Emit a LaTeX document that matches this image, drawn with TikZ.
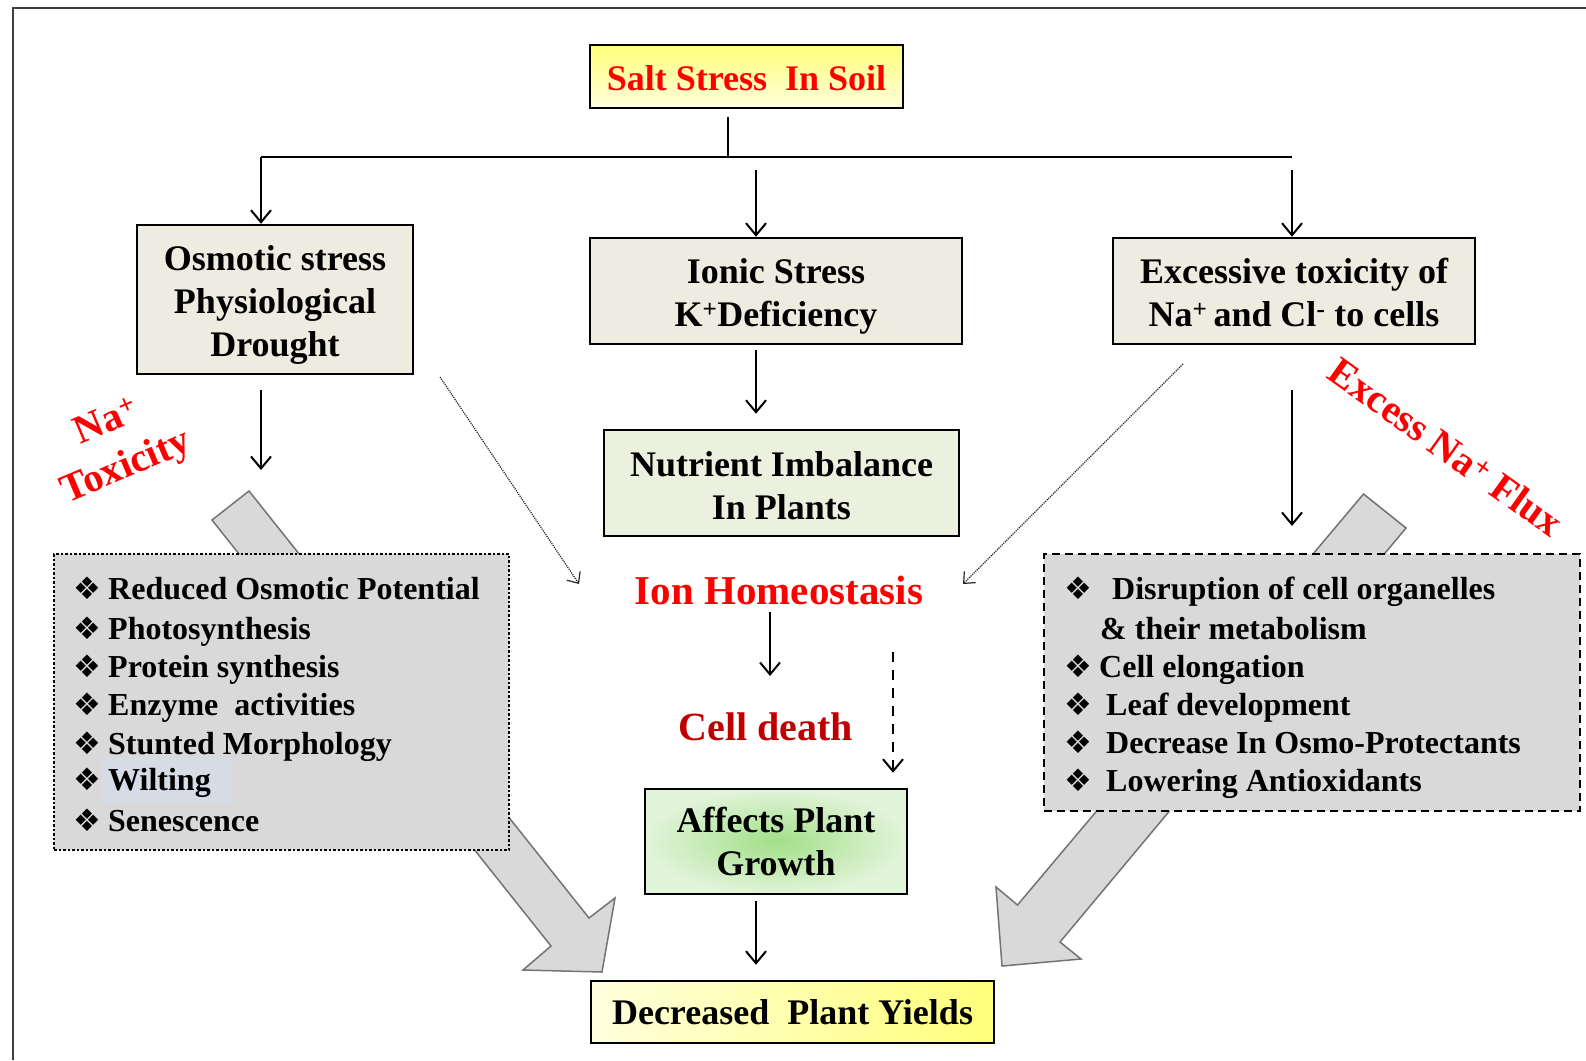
\documentclass[tikz,border=0pt]{standalone}
\usepackage{fontspec}
\setmainfont{Liberation Serif}
\newfontfamily\symfont{DejaVu Sans}
\usetikzlibrary{arrows.meta}

\definecolor{beige}{HTML}{EEECE1}
\definecolor{nutrgreen}{HTML}{EBF1DE}
\definecolor{listgray}{HTML}{D9D9D9}
\definecolor{darkred}{HTML}{C00000}
\definecolor{yellowtop}{HTML}{FFFF7A}
\definecolor{yellowbot}{HTML}{FFFFDD}
\definecolor{growin}{HTML}{A2DF88}
\definecolor{growout}{HTML}{E2F4DA}
\definecolor{hilite}{HTML}{D5DCE6}

\newcommand{\dia}{{\symfont ❖}}
\newcommand{\lift}[1]{\rule{0pt}{#1}}

\begin{document}
\begin{tikzpicture}[x=1pt,y=-1pt,
    box/.style = {draw, line width=2.5pt, align=center, inner sep=0pt,
                  font=\fontsize{36}{43}\selectfont\bfseries},
    arrow/.style = {line width=2pt, -{Straight Barb[length=12pt,width=20pt]}},
    dotarrow/.style = {line width=1.2pt, densely dotted, black!85,
                  -{Straight Barb[length=9pt,width=16pt]}},
    dasharrow/.style = {line width=2pt, dash pattern=on 10pt off 8pt,
                  -{Straight Barb[length=12pt,width=20pt]}},
    listbox/.style = {fill=listgray, line width=2.5pt, inner sep=0pt},
    item/.style = {anchor=base west, inner sep=0pt,
                  font=\fontsize{32}{38}\selectfont\bfseries},
    bul/.style = {anchor=base, inner sep=0pt, font=\fontsize{31}{34}\selectfont},
    blockarrow/.style = {fill=listgray, draw=black!55, line width=1.5pt},
    redtext/.style = {text=red, inner sep=0pt,
                  font=\fontsize{41}{48}\selectfont\bfseries}]
    \useasboundingbox (0,0) rectangle (1586,1060);
    \draw[line width=1.5pt, black!75] (13,1060) -- (13,8) -- (1586,8);

    % big grey arrows behind the lists
    \draw[blockarrow] (212,520) -- (249,491) -- (589,918) -- (615,898)
        -- (602,972) -- (523,970) -- (551,946) -- cycle;
    \draw[blockarrow] (1363.5,494) -- (1406,528) -- (1060,942) -- (1081,959)
        -- (1002,966) -- (996,887) -- (1017.5,905) -- cycle;

    % boxes
    \node[box, text=red, top color=yellowtop, bottom color=yellowbot,
          minimum width=313pt, minimum height=63pt] (salt) at (746.5,76.5)
          {\lift{28pt}Salt Stress\ \ In Soil};
    \node[box, fill=beige, minimum width=276pt, minimum height=149pt]
          (osm) at (275,299.5) {\lift{35pt}Osmotic stress\\Physiological\\Drought};
    \node[box, fill=beige, minimum width=372pt, minimum height=106pt]
          (ionic) at (776,291) {\lift{36pt}Ionic Stress\\K\textsuperscript{+}Deficiency};
    \node[box, fill=beige, minimum width=362pt, minimum height=106pt]
          (excess) at (1294,291)
          {\lift{28pt}Excessive toxicity of\\Na\textsuperscript{+}\,and Cl\textsuperscript{-} to cells};
    \node[box, fill=nutrgreen, minimum width=355pt, minimum height=106pt]
          (nutr) at (781.5,483) {\lift{30pt}Nutrient Imbalance\\In Plants};
    \node[redtext] (ion) at (779,590) {Ion Homeostasis};
    \node[redtext, text=darkred, font=\fontsize{40}{48}\selectfont\bfseries]
          (death) at (766,727) {Cell death};
    \node[box, inner color=growin, outer color=growout,
          minimum width=262pt, minimum height=105pt] (growth) at (776,841.5)
          {\lift{26pt}Affects Plant\\Growth};
    \node[box, left color=yellowbot, right color=yellowtop,
          minimum width=403pt, minimum height=62pt] (yield) at (792.5,1012)
          {Decreased\ \ Plant Yields};

    % side labels
    \node[redtext, rotate=23, align=center, font=\fontsize{40}{49}\selectfont\bfseries]
          (natox) at (117,446) {Na\textsuperscript{+}\\Toxicity};
    \node[redtext, rotate=-35.5, font=\fontsize{40}{46}\selectfont\bfseries]
          (flux) at (1446,447) {Excess Na\textsuperscript{+} Flux};

    % left list
    \node[listbox, draw, dotted, minimum width=455pt, minimum height=296pt]
          (effl) at (281.5,702) {};
    \fill[hilite] (102,758) rectangle (233,803);
    \foreach \y/\t [count=\i] in {599/Reduced Osmotic Potential, 639/Photosynthesis,
            677/Protein synthesis, 715/Enzyme\ \ activities, 754/Stunted Morphology,
            790/Wilting, 831/Senescence} {
        \node[bul] (lb\i) at (87,\y) {\dia};
        \node[item] (l\i) at (108,\y) {\t};
    }

    % right list
    \node[listbox, draw, dash pattern=on 8pt off 5pt, minimum width=536pt,
          minimum height=257pt] (effr) at (1312,682.5) {};
    \foreach \y/\x/\t [count=\i] in {599/1112/Disruption of cell organelles,
            677/1099/Cell elongation, 715/1106/Leaf development,
            753/1106/Decrease In Osmo-Protectants, 791/1106/Lowering Antioxidants} {
        \node[bul] (rb\i) at (1078,\y) {\dia};
        \node[item] (r\i) at (\x,\y) {\t};
    }
    \node[item] (r0) at (1100,639) {\& their metabolism};

    % connectors
    \coordinate (split) at (728,157);
    \coordinate (brl) at (261,157);
    \coordinate (brr) at (1292,157);
    \coordinate (mid) at (756,157);
    \draw[line width=2pt, shorten <=8pt] (salt.south -| split) -- (split);
    \draw[line width=2pt] (brl) -- (brr);
    \draw[arrow] (brl) -- (osm.north -| brl);
    \draw[arrow, shorten <=13pt] (mid) -- (ionic.north -| mid);
    \draw[arrow, shorten <=13pt] (brr) -- (excess.north -| brr);
    \draw[arrow, shorten <=5pt, shorten >=15pt] (ionic.south -| mid) -- (nutr.north -| mid);

    \coordinate (osmend) at (261,470);
    \coordinate (excend) at (1292,526);
    \draw[arrow, shorten <=15pt] (osm.south -| osmend) -- (osmend);
    \draw[arrow, shorten <=45pt] (excess.south -| excend) -- (excend);

    \coordinate (dl1) at (440,377);
    \coordinate (dl2) at (579,584);
    \coordinate (dr1) at (1183,364);
    \coordinate (dr2) at (963,584);
    \draw[dotarrow] (dl1) -- (dl2);
    \draw[dotarrow] (dr1) -- (dr2);

    \coordinate (c1) at (770,612);
    \coordinate (c2) at (770,676);
    \draw[arrow] (c1) -- (c2);
    \coordinate (dsh) at (893,652);
    \draw[dasharrow, shorten >=15pt] (dsh) -- (growth.north -| dsh);
    \draw[arrow, shorten <=6pt, shorten >=15pt] (growth.south -| mid) -- (yield.north -| mid);
\end{tikzpicture}
\end{document}
